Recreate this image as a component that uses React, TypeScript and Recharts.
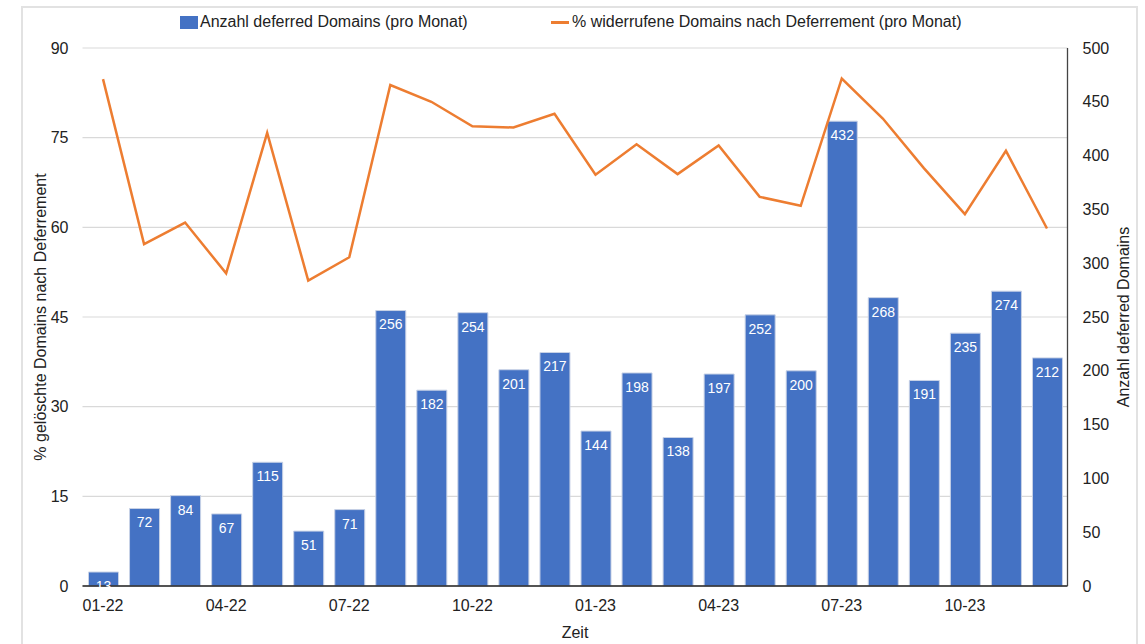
import React from 'react';
import {
    ComposedChart, Bar, Line, XAxis, YAxis, CartesianGrid, LabelList, Label
} from 'recharts';

const months = [
    '01-22', '02-22', '03-22', '04-22', '05-22', '06-22', '07-22', '08-22', '09-22', '10-22', '11-22', '12-22',
    '01-23', '02-23', '03-23', '04-23', '05-23', '06-23', '07-23', '08-23', '09-23', '10-23', '11-23', '12-23',
];

// Anzahl deferred Domains (pro Monat)
const deferredCounts = [13, 72, 84, 67, 115, 51, 71, 256, 182, 254, 201, 217, 144, 198, 138, 197, 252, 200, 432, 268, 191, 235, 274, 212];

// % widerrufene Domains nach Deferrement (pro Monat)
const revokedPct = [84.8, 57.2, 60.8, 52.3, 75.8, 51.1, 55.0, 83.8, 81.0, 76.9, 76.7, 79.0, 68.8, 73.9, 68.9, 73.7, 65.1, 63.6, 84.9, 78.2, 69.9, 62.2, 72.8, 59.8];

const leftTicks = [0, 15, 30, 45, 60, 75, 90];
const rightTicks = [0, 50, 100, 150, 200, 250, 300, 350, 400, 450, 500];

const data = months.map((m, i) => ({ month: m, count: deferredCounts[i], pct: revokedPct[i] }));

const BLUE = '#4472C4';
const ORANGE = '#ED7D31';
const FONT = '"Liberation Sans", Arial, Helvetica, sans-serif';

export default function App() {
    const tick = { fill: '#222', fontSize: 16, fontFamily: FONT };
    const title = { textAnchor: 'middle' as const, fill: '#222', fontSize: 16, fontFamily: FONT };
    return (
        <div style={{ position: 'absolute', left: 0, top: 0, width: 1145, height: 644, overflow: 'hidden', background: '#fff', fontFamily: FONT }}>
            <div style={{ position: 'absolute', left: 21, top: 6, width: 1117, height: 700, border: '2px solid #e2e2e2', boxSizing: 'border-box' }} />
            {/* legend */}
            <div style={{ position: 'absolute', top: 13, left: 0, width: 1145, height: 18, fontSize: 16, color: '#222', lineHeight: '18px' }}>
                <span style={{ position: 'absolute', left: 180, top: 3, width: 18, height: 13, background: BLUE }} />
                <span style={{ position: 'absolute', left: 200, top: 0, whiteSpace: 'nowrap' }}>Anzahl deferred Domains (pro Monat)</span>
                <span style={{ position: 'absolute', left: 551, top: 8, width: 18, height: 3, background: ORANGE }} />
                <span style={{ position: 'absolute', left: 572, top: 0, whiteSpace: 'nowrap' }}>% widerrufene Domains nach Deferrement (pro Monat)</span>
            </div>
            <div style={{ position: 'absolute', left: 0, top: 0 }}>
                <ComposedChart width={1145} height={644} data={data} margin={{ top: 48, right: 0, bottom: 0, left: 0 }}>
                    <CartesianGrid yAxisId="left" vertical={false} stroke="#d9d9d9" strokeWidth={1.2} />
                    <XAxis
                        dataKey="month"
                        interval={2}
                        tickLine={false}
                        axisLine={{ stroke: '#222', strokeWidth: 1.3 }}
                        tick={tick}
                        tickMargin={8}
                        height={58}
                    >
                        <Label value="Zeit" position="insideBottom" offset={6} style={title} />
                    </XAxis>
                    <YAxis
                        yAxisId="left"
                        orientation="left"
                        domain={[0, 90]}
                        ticks={leftTicks}
                        width={82.5}
                        tickLine={false}
                        axisLine={false}
                        tick={tick}
                        tickMargin={8}
                    >
                        <Label
                            value="% gelöschte Domains nach Deferrement"
                            angle={-90}
                            position="insideLeft"
                            offset={40}
                            style={title}
                        />
                    </YAxis>
                    <YAxis
                        yAxisId="right"
                        orientation="right"
                        domain={[0, 500]}
                        ticks={rightTicks}
                        width={77.5}
                        tickLine={false}
                        axisLine={{ stroke: '#444', strokeWidth: 1.3 }}
                        tick={tick}
                        tickMargin={9}
                    >
                        <Label
                            value="Anzahl deferred Domains"
                            angle={-90}
                            position="insideRight"
                            offset={22}
                            style={title}
                        />
                    </YAxis>
                    <Bar yAxisId="right" dataKey="count" fill={BLUE} stroke="#c8d2e6" strokeWidth={1} barSize={30} isAnimationActive={false}>
                        <LabelList dataKey="count" position="insideTop" offset={9} style={{ fill: '#fff', fontSize: 14, fontFamily: FONT }} />
                    </Bar>
                    <Line
                        yAxisId="left"
                        type="linear"
                        dataKey="pct"
                        stroke={ORANGE}
                        strokeWidth={2.5}
                        dot={false}
                        activeDot={false}
                        isAnimationActive={false}
                    />
                </ComposedChart>
            </div>
        </div>
    );
}
